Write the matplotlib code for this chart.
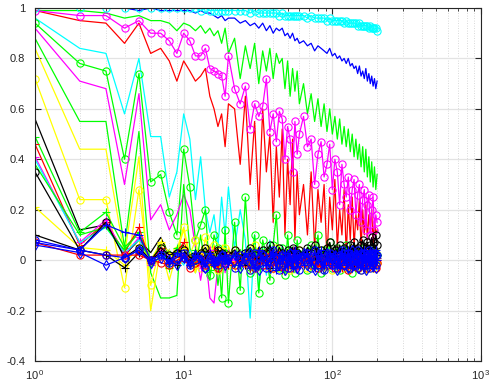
import matplotlib
matplotlib.use("Agg")
import matplotlib.pyplot as plt
import numpy as np

plt.rcParams['font.family'] = ['Liberation Sans', 'DejaVu Sans']

# lag values (x): 1..20, 22..60 step 2, 64..200 step 4
LAGS = list(range(1, 21)) + list(range(22, 61, 2)) + list(range(64, 201, 4))

# values in hundredths: head (lags 1-20) + mid (lags 22-60) + tail (lags 64-200)
CYAN_O = [100,100,100,100,100,100,100,100,100,100,100,100,99,100,99,99,99,99,99,99] + \
         [99,99,99,98,99,98,98,98,98,98,98,97,98,97,97,97,97,97,97,97] + \
         [97,96,97,96,96,96,96,95,96,95,95,95,95,95,94,95,94,94,94,94,94,93,94,93,93,93,93,93,92,93,92,92,92,92,91]
BLUE_L = [100,100,100,100,99,100,99,99,99,99,99,98,99,98,98,97,96,97,95,96] + \
         [96,94,95,93,94,92,94,91,93,90,92,91,92,89,90,88,90,87,88,86] + \
         [87,85,86,83,85,84,83,82,84,81,82,80,81,79,80,78,80,77,78,76,77,74,77,73,75,72,76,71,74,70,73,69,72,68,71]
GREEN_T = [99,99,98,96,97,95,95,94,91,94,93,91,93,90,92,89,91,86,92,82] + \
          [88,72,85,76,86,70,83,75,84,72,82,78,80,68,79,65,76,67,75,62] + \
          [70,58,66,55,64,53,62,51,60,50,57,48,56,46,53,45,52,43,50,41,48,40,46,37,45,35,44,33,41,31,39,29,37,28,34]
RED_L = [99,95,94,86,94,82,84,79,71,79,75,71,73,76,65,60,53,58,45,62] + \
        [60,38,65,30,55,20,60,35,50,15,45,25,52,10,40,22,48,8,35,18] + \
        [30,10,35,5,28,15,30,0,25,12,32,5,20,10,28,2,22,8,25,5,18,12,24,4,20,10,22,8,18,14,20,6,16,10,12]
MAG_O = [99,97,97,92,95,90,90,87,82,90,87,81,81,84,76,75,74,73,65,81] + \
        [68,62,69,52,62,57,61,72,51,58,47,59,56,40,53,48,35,55,42,50] + \
        [57,45,48,30,42,47,33,38,46,28,40,35,22,38,30,25,33,20,28,32,18,26,30,15,24,28,12,22,26,10,20,25,12,18,15]
CYAN_L = [96,84,82,58,80,49,49,25,35,58,48,24,41,20,11,18,5,25,10,29] + \
         [5,20,8,-23,10,-12,5,-6,8,-3,4,-5,6,-2,3,-4,2,0,-3,4] + \
         [2,-3,4,-1,3,-2,1,-4,3,0,2,-3,4,-1,2,-2,3,0,-3,2,1,-2,4,-1,2,-3,1,3,-2,2,0,-1,3,-2,1]
GREEN_O = [94,78,75,40,74,31,34,19,10,44,29,8,14,20,-6,10,5,-15,12,-17] + \
          [15,-12,25,-5,10,-13,8,2,-8,6,18,-3,5,-6,10,-2,4,-5,8,0] + \
          [3,-4,6,-2,10,-5,4,-1,7,-3,2,5,-4,3,-2,6,-1,2,-5,4,1,-3,3,-2,5,0,-3,2,-1,4,-2,1,3,-1,2]
MAG_L = [92,71,68,30,66,16,22,12,18,26,20,5,-8,3,-15,-17,-2,5,-5,2] + \
        [3,-2,4,-4,2,-1,3,-3,1,2,-2,3,-1,0,2,-3,4,-1,1,-2] + \
        [2,-1,3,-2,1,0,-3,2,1,-1,3,-2,0,2,-1,1,-3,2,0,1,-2,3,-1,0,2,-2,1,-1,3,0,-2,1,2,-1,1]
GREEN_L2 = [88,55,55,5,51,-5,-15,-15,-14,30,5,-5,10,-3,-8,6,-10,2,-4,3] + \
           [2,-3,4,-1,1,-4,3,0,-2,5,-1,2,-3,1,4,-2,0,3,-5,1] + \
           [3,-2,0,4,-1,2,-6,1,3,-2,0,5,-1,2,-3,1,4,-2,0,3,-1,2,-4,1,3,0,-2,4,-1,2,-3,1,0,3,-1]
YEL_L = [84,44,44,2,41,-20,5,-8,3,12,0,-5,4,-2,6,-4,3,0,-3,5] + \
        [-2,3,0,-4,2,1,-3,4,-1,0,2,-5,1,3,-2,0,4,-1,2,-3] + \
        [1,-2,3,-4,0,2,-1,1,-3,4,0,-2,2,-1,1,-4,3,0,-2,1,2,-3,0,1,-1,3,-2,0,2,-4,1,0,-1,2,-2]
YEL_O = [72,24,24,-11,28,-10,6,-2,4,13,2,8,-3,9,0,6,-4,3,5,-2] + \
        [4,-1,2,-4,6,1,-2,3,0,-3,5,2,-1,0,3,-4,1,2,-2,4] + \
        [0,-3,2,1,-2,4,-1,0,3,-4,2,1,-1,3,-3,0,2,-2,5,1,-1,0,3,-4,2,-1,1,4,-2,0,2,-3,1,3,-1]
BLACK_L = [56,12,14,2,8,3,9,2,4,6,1,3,-1,4,0,2,5,-2,3,1] + \
          [2,4,-1,3,0,5,-2,3,1,4,-1,2,3,0,4,-2,2,5,1,3] + \
          [2,4,0,3,5,1,2,4,-1,3,6,2,1,4,3,0,5,2,3,6,1,4,2,5,3,0,4,6,2,3,5,1,4,6,3]
GREEN_P = [49,11,19,5,11,0,6,-3,5,2,-2,4,0,3,-4,2,1,-1,4,0] + \
          [-2,3,1,-3,4,0,2,-1,5,-2,1,3,-3,2,0,4,-1,2,-2,3] + \
          [1,-2,3,0,-3,2,4,-1,1,3,-2,0,2,-1,4,1,-3,2,0,3,-1,2,1,-2,4,0,2,-1,3,1,-2,2,0,3,1]
RED_P = [46,6,15,3,13,-1,5,0,3,7,2,-2,3,1,-1,4,-3,2,0,-2] + \
        [3,-1,2,-3,1,4,-2,0,3,-1,2,1,-4,3,0,-2,2,4,-1,1] + \
        [-2,2,0,3,-1,-3,2,1,-2,3,0,-1,2,-3,1,0,3,-2,1,-1,2,0,-3,2,1,-2,3,-1,0,2,-2,1,3,-1,0]
MAG_P = [41,7,16,2,9,-2,4,1,-1,3,0,2,-3,1,4,-1,2,0,-2,3] + \
        [0,2,-1,3,-2,1,0,-3,2,1,-1,3,0,-2,2,-1,4,1,-3,0] + \
        [2,-1,1,3,-2,0,2,-1,1,-3,2,0,3,-1,1,-2,2,0,1,-1,3,-2,0,2,1,-1,0,3,-2,1,2,-1,0,2,1]
CYAN_L2 = [40,7,13,3,8,-1,3,0,2,-2,4,1,-1,3,0,-3,2,1,-1,2] + \
          [1,-2,3,0,-1,2,-3,1,0,2,-1,3,1,-2,0,2,-1,1,3,-2] + \
          [0,2,-1,1,3,-2,0,1,-1,2,0,-2,3,1,-1,0,2,-1,1,-2,2,0,3,-1,1,-2,0,2,1,-1,3,0,-2,1,2]
GREEN_L3 = [38,10,13,4,11,-3,2,4,-2,1,3,-1,2,0,-3,3,1,-2,2,0] + \
           [3,-1,1,-2,4,0,-1,2,-3,1,2,0,-2,3,1,-1,0,2,-2,1] + \
           [2,0,-1,3,1,-2,2,0,-3,1,3,-1,0,2,-2,1,3,0,-1,2,1,-2,0,3,-1,1,2,-3,0,2,1,-1,3,0,2]
BLACK_O = [35,4,15,1,5,0,5,2,3,4,1,0,3,5,2,-1,4,3,1,2] + \
          [4,1,3,5,2,0,4,3,6,1,2,5,3,0,4,2,5,1,3,4] + \
          [2,5,3,6,1,4,3,5,7,2,4,3,6,1,5,4,2,6,3,7,4,5,2,6,8,3,5,7,4,6,9,5,7,10,6]
YEL_P = [21,5,4,-2,6,0,7,3,-1,5,2,-3,4,1,-2,3,0,5,-1,2] + \
        [-3,2,0,4,-2,1,3,-1,-4,2,0,3,-2,1,-3,2,0,-1,3,-2] + \
        [1,-3,0,2,-2,1,-4,0,2,-1,1,-3,2,0,-2,1,-1,-4,2,0,-2,1,-3,0,2,-1,-4,1,0,-2,2,-3,0,1,-1]
BLACK_P = [10,4,2,-3,3,0,3,1,-2,2,0,3,-1,1,2,-2,0,3,1,-1] + \
          [2,0,-2,3,1,-1,2,0,-3,1,3,0,-1,2,-2,1,0,3,-1,2] + \
          [0,2,-1,1,3,-2,0,2,1,-1,3,0,-2,1,2,0,-1,3,1,-2,2,0,1,-1,3,2,0,-2,1,3,0,2,-1,1,2]
RED_O = [7,2,2,2,2,0,-1,-2,0,1,-3,-1,0,-2,1,-1,-3,0,-1,1] + \
        [-2,0,-1,1,-3,0,-2,1,-1,-3,0,2,-2,-1,0,-3,1,-1,-2,0] + \
        [-1,1,-2,0,-3,-1,1,-2,0,-1,-3,1,0,-2,-1,0,-4,-1,1,-2,0,-3,-1,1,-2,0,-1,-3,0,1,-2,-1,0,-3,-1]
BLUE_P = [7,4,14,11,10,0,2,-1,3,1,-2,2,0,-1,3,-2,1,0,2,-1] + \
         [2,-2,3,0,-3,4,1,-2,0,3,-4,2,0,3,-2,1,-3,4,0,2] + \
         [-2,3,0,-3,2,4,-2,0,3,-2,2,0,-3,3,1,-2,4,0,-3,2,3,-2,0,2,-3,4,0,2,-2,3,0,-3,2,4,0]
BLUE_D = [6,3,-2,1,4,-1,1,0,-2,1,-1,2,0,-3,1,-1,0,2,-2,0] + \
         [2,-3,1,3,-2,-4,2,0,-3,3,1,-2,2,-4,0,3,-2,2,-3,1] + \
         [3,-2,1,-4,2,0,-3,3,-1,1,2,-4,0,3,-2,2,-3,1,4,-2,0,-3,2,3,-2,1,-4,2,0,3,-2,2,1,-3,2]
BLUE_O = [8,4,2,1,4,0,2,-1,1,3,-2,0,2,-3,1,0,-2,2,-1,1] + \
         [-3,2,0,-4,3,-1,2,-3,1,4,-2,-4,2,0,-3,3,-1,1,2,-4] + \
         [1,3,-3,4,-2,1,-4,2,3,-2,0,-3,2,4,-2,1,3,-3,2,0,-2,4,1,-4,2,3,-2,0,4,-3,2,-1,3,-2,2]

C = {'c': '#00ffff', 'b': '#0000ff', 'g': '#00ff00', 'r': '#ff0000',
     'm': '#ff00ff', 'y': '#ffff00', 'k': '#000000'}

# (values, colour, marker) in drawing order
SERIES = [
    (RED_L, 'r', None), (GREEN_T, 'g', None), (MAG_O, 'm', 'o'),
    (BLUE_L, 'b', None), (CYAN_O, 'c', 'o'),
    (CYAN_L, 'c', None), (GREEN_O, 'g', 'o'), (MAG_L, 'm', None),
    (GREEN_L2, 'g', None), (YEL_L, 'y', None), (YEL_O, 'y', 'o'),
    (BLACK_L, 'k', None), (GREEN_P, 'g', '+'), (RED_P, 'r', '+'),
    (MAG_P, 'm', '+'), (CYAN_L2, 'c', None), (GREEN_L3, 'g', None),
    (YEL_P, 'y', '+'), (BLACK_O, 'k', 'o'), (BLACK_P, 'k', '+'),
    (RED_O, 'r', 'o'), (BLUE_P, 'b', '+'), (BLUE_D, 'b', 'd'), (BLUE_O, 'b', 'o'),
]

fig = plt.figure(figsize=(4.93, 3.81), dpi=100)
ax = fig.add_axes([0.071, 0.0525, 0.9047, 0.9265])

for vals, col, mk in SERIES:
    assert len(vals) == len(LAGS), (len(vals), vals[:3])
    y = np.array(vals) / 100.0
    if mk is None:
        ax.plot(LAGS, y, color=C[col], lw=0.9)
    else:
        ms = 5.2 if mk in ('o', 'd') else 6
        ax.plot(LAGS, y, color=C[col], lw=0.9, marker=mk, ms=ms,
                mfc='none', mec=C[col], mew=0.8)

ax.set_xscale('log')
ax.set_xlim(1, 1000)
ax.set_ylim(-0.4, 1.0)
ax.set_yticks([-0.4, -0.2, 0, 0.2, 0.4, 0.6, 0.8, 1.0])
ax.set_yticklabels(['-0.4', '-0.2', '0', '0.2', '0.4', '0.6', '0.8', '1'])
ax.set_xticks([1, 10, 100, 1000])
ax.set_xticklabels([r'$\mathregular{10^{\,0}}$', r'$\mathregular{10^{\,1}}$',
                    r'$\mathregular{10^{\,2}}$', r'$\mathregular{10^{\,3}}$'])

ax.grid(True, which='major', color='#e3e3e3', lw=0.9, ls='-')
ax.grid(True, which='minor', axis='x', color='#cccccc', lw=0.6, ls=(0, (1, 2)))
ax.set_axisbelow(True)

ax.tick_params(which='both', direction='in', top=True, right=True,
               colors='#262626', labelcolor='#262626', labelsize=8)
ax.tick_params(which='major', length=4, width=0.8)
ax.tick_params(which='minor', length=2.5, width=0.6)
ax.tick_params(axis='y', pad=7)
ax.tick_params(axis='x', pad=5)
for s in ax.spines.values():
    s.set_color('#262626')
    s.set_linewidth(0.8)

fig.savefig('out.png', dpi=100)
